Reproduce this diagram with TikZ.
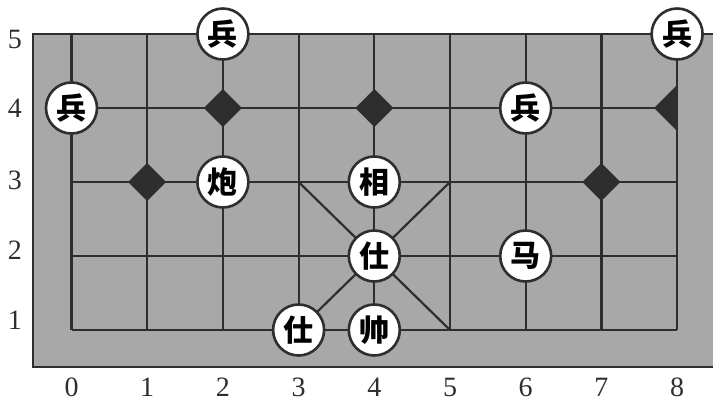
\documentclass[tikz,border=0pt]{standalone}
\usepackage{fontspec}
\setmainfont{Liberation Serif}
\newfontfamily\cjk{Noto Sans CJK SC}
\definecolor{board}{HTML}{A8A8A8}
\definecolor{ink}{HTML}{2E2E2E}
\begin{document}
\begin{tikzpicture}[x=1pt,y=-1pt,
  gridline/.style={draw=ink,line width=2.2pt},
  piece/.style={circle,draw=ink,line width=2.6pt,fill=white,minimum size=51pt,inner sep=0pt,font=\cjk\bfseries\fontsize{30}{30}\selectfont},
  dia/.style={fill=ink},
  axlabel/.style={font=\fontsize{28}{28}\selectfont,text=ink,inner sep=0pt}]
\useasboundingbox (0,0) rectangle (713,402);
\fill[board] (33,34) rectangle (713,367);
\draw[gridline] (713,34) -- (33,34) -- (33,367) -- (713,367);
\foreach \i in {0,...,8}{
  \foreach \j in {1,...,5}{
    \coordinate (p\i\j) at ({71.5+75.7*\i},{404-74*\j});
  }
}
\foreach \i in {0,...,8}{ \draw[gridline] (p\i5) -- (p\i1); }
\foreach \j in {1,...,4}{ \draw[gridline] (p0\j) -- (p8\j); }
\draw[gridline] (p33) -- (p51);
\draw[gridline] (p53) -- (p31);
% diamonds
\foreach \c in {p24,p44,p13,p73}{
  \fill[dia,shift={(\c)}] (-19,0) -- (0,-19) -- (19,0) -- (0,19) -- cycle;
}
\fill[dia,shift={(p84)}] (0,-23) -- (-23,0) -- (0,23) -- cycle;
% pieces
\node[piece] (b1) at (p04) {兵};
\node[piece] (b2) at (p25) {兵};
\node[piece] (b3) at (p64) {兵};
\node[piece] (b4) at (p85) {兵};
\node[piece] (pao) at (p23) {炮};
\node[piece] (xiang) at (p43) {相};
\node[piece] (shi1) at (p42) {仕};
\node[piece] (shi2) at (p31) {仕};
\node[piece] (shuai) at (p41) {帅};
\node[piece] (ma) at (p62) {马};
% axis labels
\foreach \i in {0,...,8}{
  \node[axlabel] (cx\i) at ({71.5+75.7*\i},387) {\i};
}
\node[axlabel] (ry5) at (15,39) {5};
\node[axlabel] (ry4) at (15,108) {4};
\node[axlabel] (ry3) at (15,180) {3};
\node[axlabel] (ry2) at (15,250) {2};
\node[axlabel] (ry1) at (15,320) {1};
\end{tikzpicture}
\end{document}
